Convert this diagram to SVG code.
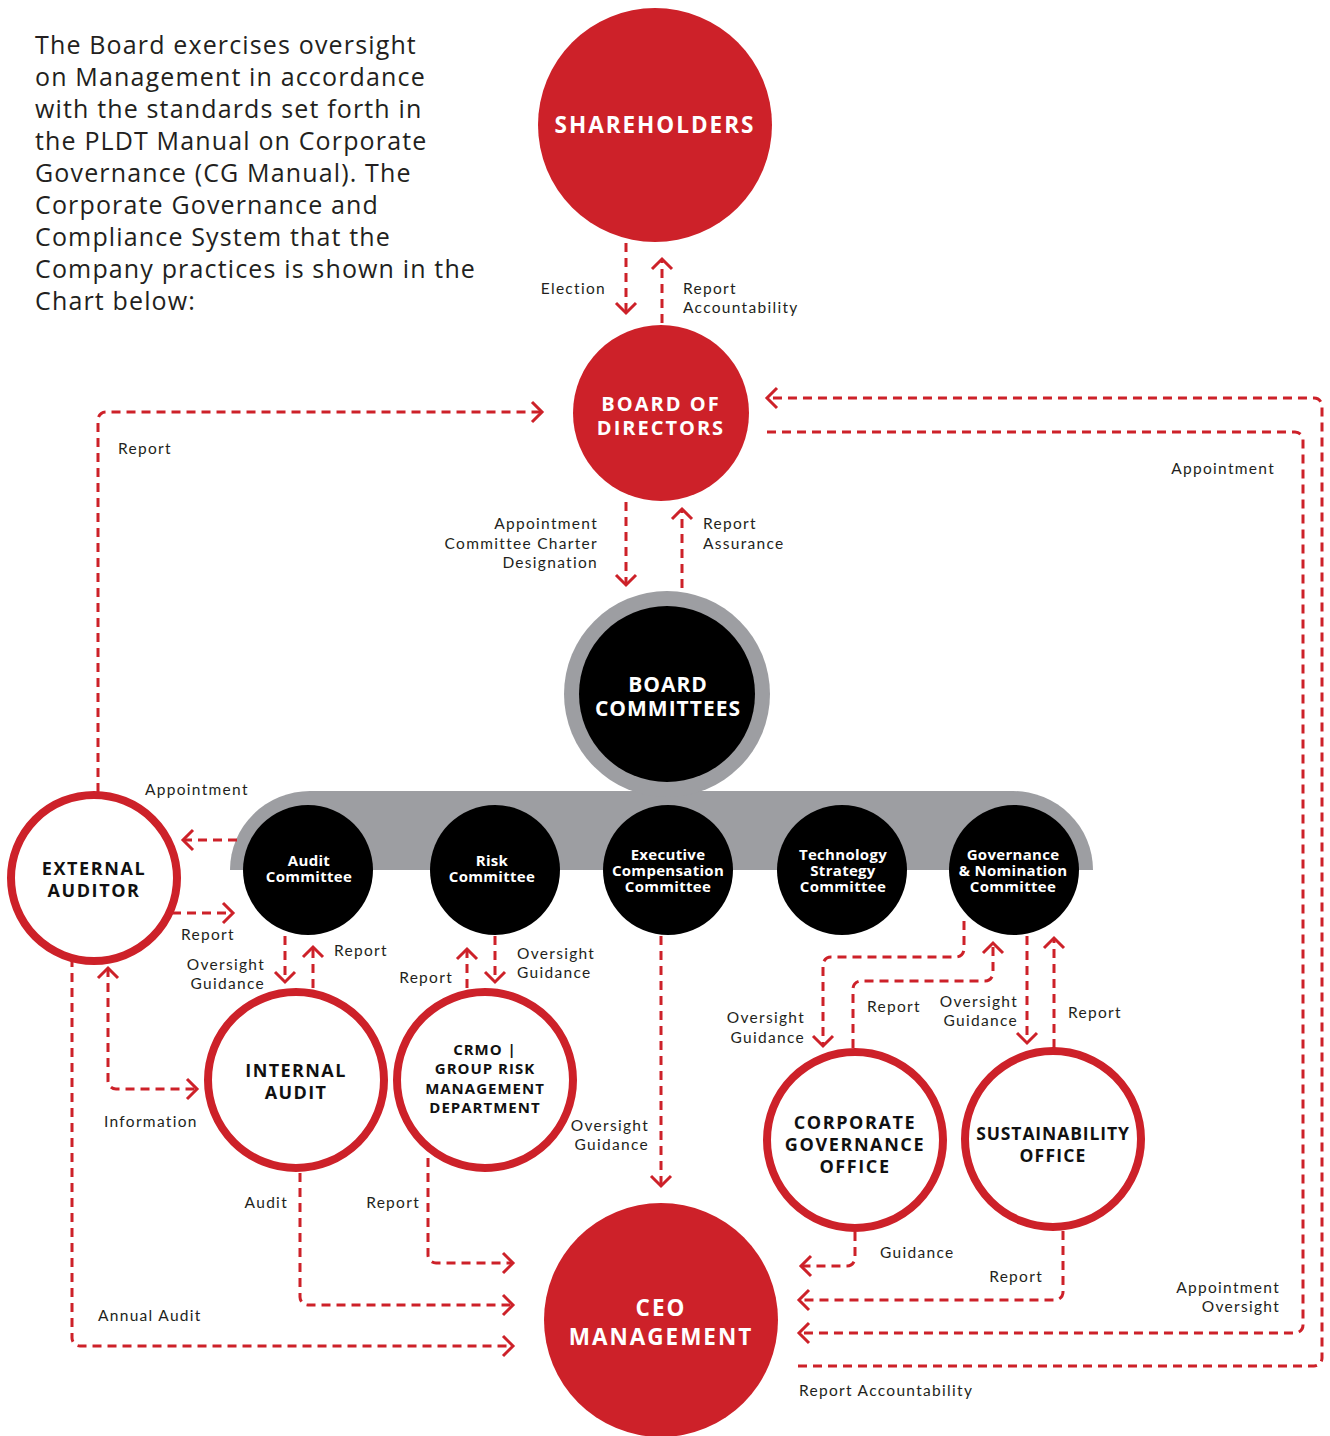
<svg xmlns="http://www.w3.org/2000/svg" width="1330" height="1436" viewBox="0 0 1330 1436">
<style>
.bg{fill:#ffffff}
.intro{font-family:"Open Sans","Liberation Sans",sans-serif;font-size:25px;fill:#231f20;letter-spacing:1.15px}
.lbl{font-family:Lato,"Open Sans","Liberation Sans",sans-serif;font-size:15.5px;fill:#231f20;letter-spacing:1.3px}
.end{text-anchor:end}
.redfill{fill:#cd2129}
.ring{fill:#ffffff;stroke:#cd2129;stroke-width:8}
.blk{fill:#000000}
.gray{fill:#9d9ea2}
.wt{font-family:"Open Sans","Liberation Sans",sans-serif;font-weight:700;fill:#ffffff;text-anchor:middle}
.bt{font-family:"Open Sans","Liberation Sans",sans-serif;font-weight:700;fill:#111111;text-anchor:middle}
.big{font-size:22.5px;letter-spacing:2px}
.med{font-size:18px;letter-spacing:1.4px}
.sm{font-size:15px;letter-spacing:1px}
.xs{font-size:15px;letter-spacing:0.3px}
.conn path{fill:none;stroke:#cd2129;stroke-width:3;stroke-dasharray:9 6}
</style>
<defs>
<marker id="ah" markerUnits="userSpaceOnUse" markerWidth="14" markerHeight="24" refX="11" refY="11" orient="auto-start-reverse" overflow="visible">
<path d="M1,1 L11,11 L1,21" fill="none" stroke="#cd2129" stroke-width="3" stroke-dasharray="none"/>
</marker>
</defs>
<rect class="bg" x="0" y="0" width="1330" height="1436"/>

<g id="intro">
<text class="intro" x="35" y="54">The Board exercises oversight</text>
<text class="intro" x="35" y="86">on Management in accordance</text>
<text class="intro" x="35" y="118">with the standards set forth in</text>
<text class="intro" x="35" y="150">the PLDT Manual on Corporate</text>
<text class="intro" x="35" y="182">Governance (CG Manual). The</text>
<text class="intro" x="35" y="214">Corporate Governance and</text>
<text class="intro" x="35" y="246">Compliance System that the</text>
<text class="intro" x="35" y="278">Company practices is shown in the</text>
<text class="intro" x="35" y="310">Chart below:</text>
</g>

<g id="committee-bar">
<path class="gray" d="M230,870 A80,79 0 0 1 310,791 L1013,791 A80,79 0 0 1 1093,870 Z"/>
</g>

<g id="shareholders">
<circle class="redfill" cx="655" cy="125" r="117"/>
<text class="wt big" x="655" y="133">SHAREHOLDERS</text>
</g>

<g id="board-of-directors">
<circle class="redfill" cx="661" cy="413" r="88"/>
<text class="wt" font-size="20" letter-spacing="2"><tspan x="661" y="411">BOARD OF</tspan><tspan x="661" y="435">DIRECTORS</tspan></text>
</g>

<g id="board-committees">
<circle class="gray" cx="667" cy="694" r="103"/>
<circle class="blk" cx="667" cy="694" r="88"/>
<text class="wt" font-size="21" letter-spacing="1"><tspan x="668" y="692">BOARD</tspan><tspan x="668" y="716">COMMITTEES</tspan></text>
</g>

<g id="audit-committee">
<circle class="blk" cx="308" cy="870" r="65"/>
<text class="wt xs"><tspan x="309" y="866">Audit</tspan><tspan x="309" y="882">Committee</tspan></text>
</g>
<g id="risk-committee">
<circle class="blk" cx="495" cy="870" r="65"/>
<text class="wt xs"><tspan x="492" y="866">Risk</tspan><tspan x="492" y="882">Committee</tspan></text>
</g>
<g id="executive-compensation-committee">
<circle class="blk" cx="668" cy="870" r="65"/>
<text class="wt xs"><tspan x="668" y="860">Executive</tspan><tspan x="668" y="876">Compensation</tspan><tspan x="668" y="892">Committee</tspan></text>
</g>
<g id="technology-strategy-committee">
<circle class="blk" cx="842" cy="870" r="65"/>
<text class="wt xs"><tspan x="843" y="860">Technology</tspan><tspan x="843" y="876">Strategy</tspan><tspan x="843" y="892">Committee</tspan></text>
</g>
<g id="governance-nomination-committee">
<circle class="blk" cx="1014" cy="870" r="65"/>
<text class="wt xs"><tspan x="1013" y="860">Governance</tspan><tspan x="1013" y="876">&amp; Nomination</tspan><tspan x="1013" y="892">Committee</tspan></text>
</g>

<g id="external-auditor">
<circle class="ring" cx="94" cy="878" r="83"/>
<text class="bt" font-size="18" letter-spacing="1.6"><tspan x="94" y="875">EXTERNAL</tspan><tspan x="94" y="897">AUDITOR</tspan></text>
</g>

<g id="internal-audit">
<circle class="ring" cx="296" cy="1080" r="88"/>
<text class="bt med"><tspan x="296" y="1077">INTERNAL</tspan><tspan x="296" y="1099">AUDIT</tspan></text>
</g>

<g id="crmo">
<circle class="ring" cx="485" cy="1080" r="88"/>
<text class="bt sm"><tspan x="485" y="1055">CRMO |</tspan><tspan x="485" y="1074">GROUP RISK</tspan><tspan x="485" y="1094">MANAGEMENT</tspan><tspan x="485" y="1113">DEPARTMENT</tspan></text>
</g>

<g id="corporate-governance-office">
<circle class="ring" cx="855" cy="1140" r="88"/>
<text class="bt" font-size="18" letter-spacing="1.6"><tspan x="855" y="1129">CORPORATE</tspan><tspan x="855" y="1151">GOVERNANCE</tspan><tspan x="855" y="1173">OFFICE</tspan></text>
</g>

<g id="sustainability-office">
<circle class="ring" cx="1053" cy="1139" r="88"/>
<text class="bt" font-size="17.5" letter-spacing="0.9"><tspan x="1053" y="1140">SUSTAINABILITY</tspan><tspan x="1053" y="1162" letter-spacing="1.2">OFFICE</tspan></text>
</g>

<g id="ceo-management">
<circle class="redfill" cx="661" cy="1320" r="117"/>
<text class="wt big"><tspan x="661" y="1316">CEO</tspan><tspan x="661" y="1345">MANAGEMENT</tspan></text>
</g>

<g id="connectors" class="conn">
<path d="M626,243 V313" marker-end="url(#ah)"/>
<path d="M662,323 V259" marker-end="url(#ah)"/>
<path d="M626,502 V585" marker-end="url(#ah)"/>
<path d="M682,588 V509" marker-end="url(#ah)"/>
<path d="M98,792 V420 A8,8 0 0 1 106,412 H542" marker-end="url(#ah)"/>
<path d="M798,1366 H1314 A8,8 0 0 0 1322,1358 V406 A8,8 0 0 0 1314,398 H767" marker-end="url(#ah)"/>
<path d="M767,432 H1295 A8,8 0 0 1 1303,440 V1325 A8,8 0 0 1 1295,1333 H799" marker-end="url(#ah)"/>
<path d="M237,840 H183" marker-end="url(#ah)"/>
<path d="M172,913 H233" marker-end="url(#ah)"/>
<path d="M285,936 V982" marker-end="url(#ah)"/>
<path d="M313,988 V947" marker-end="url(#ah)"/>
<path d="M467,988 V949" marker-end="url(#ah)"/>
<path d="M495,936 V982" marker-end="url(#ah)"/>
<path d="M661,936 V1186" marker-end="url(#ah)"/>
<path d="M108,968 V1081 A8,8 0 0 0 116,1089 H197" marker-start="url(#ah)" marker-end="url(#ah)"/>
<path d="M72,958 V1338 A8,8 0 0 0 80,1346 H513" marker-end="url(#ah)"/>
<path d="M300,1173 V1297 A8,8 0 0 0 308,1305 H513" marker-end="url(#ah)"/>
<path d="M428,1158 V1255 A8,8 0 0 0 436,1263 H513" marker-end="url(#ah)"/>
<path d="M964,921 V949 A8,8 0 0 1 956,957 H831 A8,8 0 0 0 823,965 V1046" marker-end="url(#ah)"/>
<path d="M853,1048 V989 A8,8 0 0 1 861,981 H985 A8,8 0 0 0 993,973 V943" marker-end="url(#ah)"/>
<path d="M1027,936 V1043" marker-end="url(#ah)"/>
<path d="M1054,1048 V938" marker-end="url(#ah)"/>
<path d="M855,1232 V1258 A8,8 0 0 1 847,1266 H801" marker-end="url(#ah)"/>
<path d="M1063,1231 V1292 A8,8 0 0 1 1055,1300 H799" marker-end="url(#ah)"/>
</g>

<g id="labels">
<text class="lbl end" x="606" y="294">Election</text>
<text class="lbl" x="683" y="294">Report</text>
<text class="lbl" x="683" y="313">Accountability</text>
<text class="lbl end" x="598" y="529">Appointment</text>
<text class="lbl end" x="598" y="549">Committee Charter</text>
<text class="lbl end" x="598" y="568">Designation</text>
<text class="lbl" x="703" y="529">Report</text>
<text class="lbl" x="703" y="549">Assurance</text>
<text class="lbl" x="118" y="454">Report</text>
<text class="lbl end" x="1275" y="474">Appointment</text>
<text class="lbl" x="145" y="795">Appointment</text>
<text class="lbl" x="181" y="940">Report</text>
<text class="lbl end" x="265" y="970">Oversight</text>
<text class="lbl end" x="265" y="989">Guidance</text>
<text class="lbl" x="334" y="956">Report</text>
<text class="lbl end" x="453" y="983">Report</text>
<text class="lbl" x="517" y="959">Oversight</text>
<text class="lbl" x="517" y="978">Guidance</text>
<text class="lbl end" x="649" y="1131">Oversight</text>
<text class="lbl end" x="649" y="1150">Guidance</text>
<text class="lbl" x="104" y="1127">Information</text>
<text class="lbl end" x="288" y="1208">Audit</text>
<text class="lbl end" x="420" y="1208">Report</text>
<text class="lbl" x="98" y="1321">Annual Audit</text>
<text class="lbl end" x="805" y="1023">Oversight</text>
<text class="lbl end" x="805" y="1043">Guidance</text>
<text class="lbl" x="867" y="1012">Report</text>
<text class="lbl end" x="1018" y="1007">Oversight</text>
<text class="lbl end" x="1018" y="1026">Guidance</text>
<text class="lbl" x="1068" y="1018">Report</text>
<text class="lbl" x="880" y="1258">Guidance</text>
<text class="lbl end" x="1043" y="1282">Report</text>
<text class="lbl end" x="1280" y="1293">Appointment</text>
<text class="lbl end" x="1280" y="1312">Oversight</text>
<text class="lbl" x="799" y="1396">Report Accountability</text>
</g>
</svg>
